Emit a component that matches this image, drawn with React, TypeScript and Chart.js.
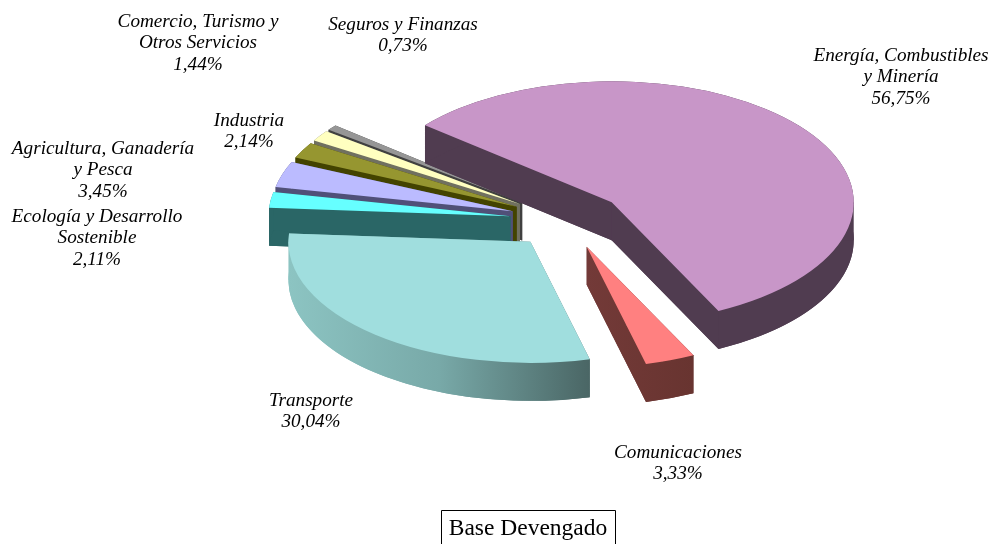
import React, { useEffect, useRef } from "react";
import { Chart, registerables } from "chart.js";

Chart.register(...registerables);

const categories = [
  "Energía, Combustibles y Minería",
  "Comunicaciones",
  "Transporte",
  "Ecología y Desarrollo Sostenible",
  "Agricultura, Ganadería y Pesca",
  "Industria",
  "Comercio, Turismo y Otros Servicios",
  "Seguros y Finanzas",
];
const shares = [56.75, 3.33, 30.04, 2.11, 3.45, 2.14, 1.44, 0.73];
const topColors = ["#C896C8", "#FF8080", "#A0DEDE", "#66FFFF", "#BBBBFF", "#969630", "#FFFFC0", "#969696"];
const wallColors = [
  ["#503C50"],
  ["#733A38", "#683430"],
  ["#8CC4C2", "#78A9A8", "#4A6665"],
  ["#2A6666"],
  ["#505078"],
  ["#434300"],
  ["#707060"],
  ["#404040"],
];
const labelLines = [
  ["Energía, Combustibles", "y Minería"],
  ["Comunicaciones"],
  ["Transporte"],
  ["Ecología y Desarrollo", "Sostenible"],
  ["Agricultura, Ganadería", "y Pesca"],
  ["Industria"],
  ["Comercio, Turismo y", "Otros Servicios"],
  ["Seguros y Finanzas"],
];
const labelCentres = [
  [901, 56],
  [678, 453],
  [311, 401],
  [97, 217],
  [103, 149],
  [249, 121],
  [198, 22],
  [403, 25],
];
const drawOrder = [7, 6, 5, 4, 3, 0, 1, 2];
const caption = "Base Devengado";

const SQUASH = 0.5;
const DEPTH = 38;
const EXPLODE = 57;
const LINE = 21.3;

const pie3d = {
  id: "pie3d",
  beforeDatasetDraw(chart: any, args: any) {
    const ctx = chart.ctx as CanvasRenderingContext2D;
    const arcs = chart.getDatasetMeta(args.index).data;
    for (const i of drawOrder) {
      const arc = arcs[i];
      const mid = (arc.startAngle + arc.endAngle) / 2;
      const ax = arc.x + Math.cos(mid) * EXPLODE;
      const ay = arc.y + Math.sin(mid) * EXPLODE * SQUASH;
      const r = arc.outerRadius;
      const sx = ax + Math.cos(arc.startAngle) * r;
      const sy = ay + Math.sin(arc.startAngle) * r * SQUASH;
      const ex = ax + Math.cos(arc.endAngle) * r;
      const ey = ay + Math.sin(arc.endAngle) * r * SQUASH;

      const stops = wallColors[i];
      let wall: string | CanvasGradient = stops[0];
      if (stops.length > 1) {
        const g = ctx.createLinearGradient(Math.min(ax, sx, ex), 0, Math.max(ax, sx, ex), 0);
        stops.forEach((c, n) => g.addColorStop(n / (stops.length - 1), c));
        wall = g;
      }
      ctx.save();
      ctx.fillStyle = wall;
      // lower copy of the sector
      ctx.beginPath();
      ctx.moveTo(ax, ay + DEPTH);
      ctx.ellipse(ax, ay + DEPTH, r, r * SQUASH, 0, arc.startAngle, arc.endAngle);
      ctx.closePath();
      ctx.fill();
      // two radial faces
      for (const [px, py] of [[sx, sy], [ex, ey]]) {
        ctx.beginPath();
        ctx.moveTo(ax, ay);
        ctx.lineTo(px, py);
        ctx.lineTo(px, py + DEPTH);
        ctx.lineTo(ax, ay + DEPTH);
        ctx.closePath();
        ctx.fill();
      }
      // curved outer face
      ctx.beginPath();
      ctx.ellipse(ax, ay, r, r * SQUASH, 0, arc.startAngle, arc.endAngle);
      ctx.ellipse(ax, ay + DEPTH, r, r * SQUASH, 0, arc.endAngle, arc.startAngle, true);
      ctx.closePath();
      ctx.fill();
      // vertical silhouette where the rim turns at its far left or far right
      for (const k of [-1, 0, 1, 2]) {
        const turn = k * Math.PI;
        if (arc.startAngle <= turn && turn <= arc.endAngle) {
          const side = Math.cos(turn);
          const w = r * 0.05;
          ctx.fillRect(side > 0 ? ax + r - w : ax - r, ay, w, DEPTH);
        }
      }
      ctx.restore();

      // top face: the library's own arc element, squashed and exploded
      ctx.save();
      ctx.translate(ax, ay);
      ctx.scale(1, SQUASH);
      ctx.translate(-arc.x, -arc.y);
      arc.draw(ctx);
      ctx.restore();
    }
    return false;
  },
  afterDraw(chart: any) {
    const ctx = chart.ctx as CanvasRenderingContext2D;
    ctx.save();
    ctx.fillStyle = "#000";
    ctx.textAlign = "center";
    ctx.textBaseline = "middle";
    ctx.font = 'italic 19.2px "Liberation Serif"';
    shares.forEach((v, i) => {
      const lines = [...labelLines[i], v.toFixed(2).replace(".", ",") + "%"];
      const [x, y] = labelCentres[i];
      lines.forEach((t, n) => ctx.fillText(t, x, y + n * LINE));
    });
    ctx.font = '23.5px "Liberation Serif"';
    ctx.fillText(caption, 528, 529);
    ctx.strokeStyle = "#000";
    ctx.lineWidth = 1;
    ctx.beginPath();
    ctx.moveTo(441.5, 544);
    ctx.lineTo(441.5, 510.5);
    ctx.lineTo(615.5, 510.5);
    ctx.lineTo(615.5, 544);
    ctx.stroke();
    ctx.restore();
  },
};

export default function App() {
  const ref = useRef<HTMLCanvasElement>(null);
  useEffect(() => {
    const chart = new Chart(ref.current!, {
      type: "pie",
      data: {
        labels: categories,
        datasets: [
          {
            data: shares,
            backgroundColor: topColors,
            borderWidth: 0,
            radius: 242,
            rotation: -50.5,
          } as any,
        ],
      },
      options: {
        animation: false,
        responsive: false,
        layout: { padding: { left: 138, right: 0, top: 0, bottom: 104 } },
        plugins: { legend: { display: false }, tooltip: { enabled: false }, title: { display: false } },
      },
      plugins: [pie3d],
    } as any);
    return () => chart.destroy();
  }, []);
  return (
    <canvas
      ref={ref}
      width={996}
      height={544}
      style={{ position: "absolute", left: 0, top: 0, width: 996, height: 544, display: "block" }}
    />
  );
}
